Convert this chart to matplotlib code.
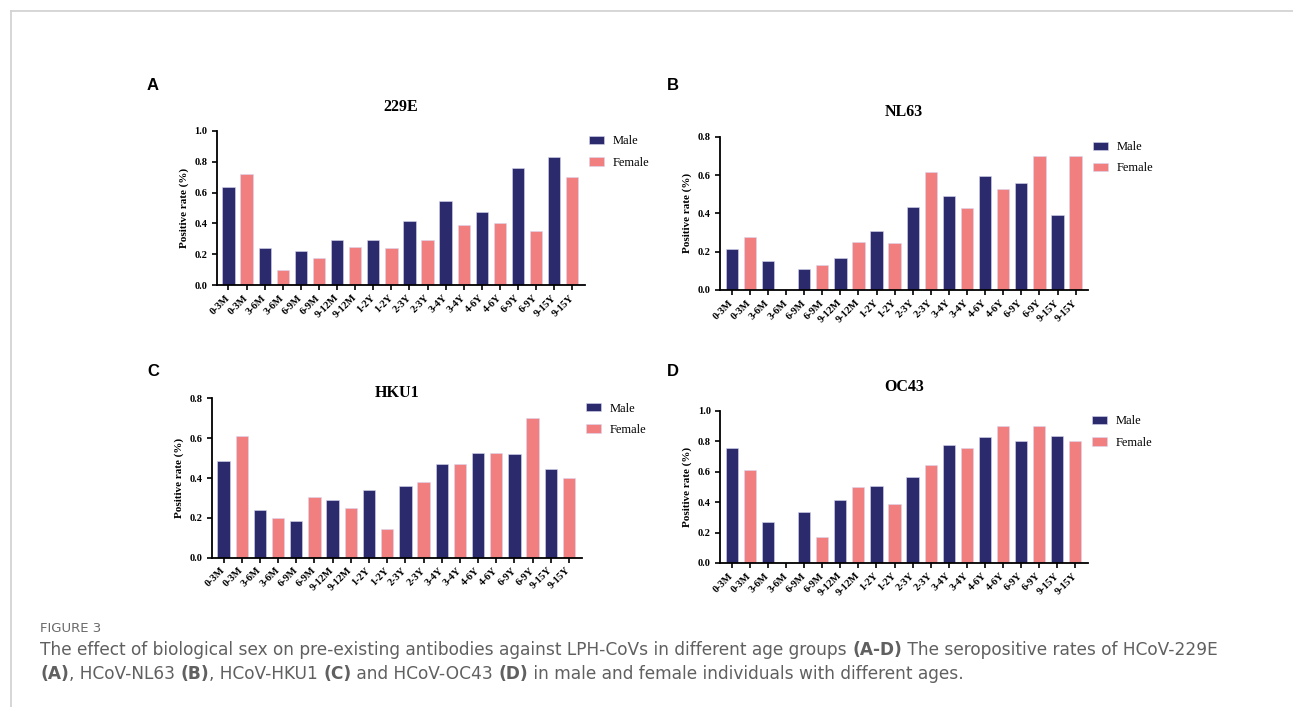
import numpy as np
import matplotlib
matplotlib.use("Agg")
import matplotlib.pyplot as plt
from matplotlib.lines import Line2D
from matplotlib.patches import Patch

# age groups, each shown twice (male bar then female bar)
age_groups = ["0-3M", "3-6M", "6-9M", "9-12M", "1-2Y", "2-3Y", "3-4Y", "4-6Y", "6-9Y", "9-15Y"]

# seropositive rates
male_229e = [0.634, 0.240, 0.221, 0.290, 0.290, 0.413, 0.545, 0.474, 0.758, 0.831]
female_229e = [0.721, 0.100, 0.173, 0.249, 0.240, 0.292, 0.387, 0.405, 0.348, 0.699]

male_nl63 = [0.212, 0.151, 0.111, 0.167, 0.308, 0.435, 0.490, 0.593, 0.560, 0.390]
female_nl63 = [0.278, 0.0, 0.130, 0.249, 0.243, 0.617, 0.430, 0.525, 0.699, 0.699]

male_hku1 = [0.485, 0.241, 0.184, 0.291, 0.338, 0.358, 0.472, 0.524, 0.519, 0.445]
female_hku1 = [0.609, 0.199, 0.305, 0.249, 0.146, 0.382, 0.469, 0.524, 0.700, 0.398]

male_oc43 = [0.759, 0.272, 0.333, 0.417, 0.509, 0.566, 0.774, 0.829, 0.800, 0.833]
female_oc43 = [0.612, 0.0, 0.173, 0.500, 0.388, 0.647, 0.757, 0.904, 0.899, 0.800]

NAVY = "#2B2A6D"
PINK = "#F27F80"
SERIF = ["Liberation Serif", "DejaVu Serif"]

W, H = 1293, 707
fig = plt.figure(figsize=(W / 100, H / 100), dpi=100)


def px_rect(left, right, top, bottom):
    return [left / W, 1 - bottom / H, (right - left) / W, (bottom - top) / H]


def draw_panel(rect, male, female, title, title_y, letter, letter_xy, ymax, ystep):
    ax = fig.add_axes(rect)
    vals, cols, labels = [], [], []
    for g, m, f in zip(age_groups, male, female):
        vals += [m, f]
        cols += [NAVY, PINK]
        labels += [g, g]
    x = np.arange(len(vals))
    ax.bar(x, vals, width=0.68, color=cols, edgecolor="#d8d8f0", linewidth=0.4)
    ax.set_xlim(-0.65, len(vals) - 0.3)
    ax.set_ylim(0, ymax)
    yt = np.arange(0, ymax + 1e-9, ystep)
    ax.set_yticks(yt)
    ax.set_yticklabels([f"{v:.1f}" for v in yt], family=SERIF, fontweight="bold", fontsize=7.5)
    ax.set_xticks(x)
    ax.set_xticklabels(labels, rotation=45, ha="right", va="center", rotation_mode="anchor",
                       family=SERIF, fontweight="bold", fontsize=7.5)
    for s in ["top", "right"]:
        ax.spines[s].set_visible(False)
    for s in ["left", "bottom"]:
        ax.spines[s].set_linewidth(1.3)
    ax.tick_params(direction="out", length=3.6, width=1.2)
    ax.tick_params(axis="y", pad=3)
    ax.tick_params(axis="x", pad=4.5)
    ax.set_ylabel("Positive rate (%)", family=SERIF, fontweight="bold", fontsize=8)
    ax.yaxis.set_label_coords(-0.075, 0.5)
    # title placed relative to the axes top, in pixels
    top_px = (1 - rect[1] - rect[3]) * H
    ax.text(0.5, 1 + (top_px - title_y) / (rect[3] * H), title, transform=ax.transAxes,
            ha="center", va="center", family=SERIF, fontweight="bold", fontsize=11.5)
    fig.text(letter_xy[0] / W, 1 - letter_xy[1] / H, letter, ha="left", va="center",
             family=["Liberation Sans", "DejaVu Sans"], fontweight="bold", fontsize=12)
    handles = [Patch(facecolor=NAVY, edgecolor="#d8d8f0", linewidth=0.4),
               Patch(facecolor=PINK, edgecolor="#d8d8f0", linewidth=0.4)]
    ax.legend(handles, ["Male", "Female"], loc="upper left", bbox_to_anchor=(1.0, 1.0),
              frameon=False, prop={"family": SERIF, "size": 9},
              handlelength=1.2, handleheight=0.65, handletextpad=0.7, labelspacing=0.75,
              borderpad=0.0, borderaxespad=0.35)
    return ax


draw_panel(px_rect(216.7, 585, 131, 285), male_229e, female_229e, "229E", 106.7,
           "A", (147, 86), 1.0, 0.2)
draw_panel(px_rect(720, 1088.3, 136.7, 290), male_nl63, female_nl63, "NL63", 111.7,
           "B", (667, 86), 0.8, 0.2)
draw_panel(px_rect(211.7, 581.7, 398.3, 557.7), male_hku1, female_hku1, "HKU1", 393,
           "C", (147, 372), 0.8, 0.2)
draw_panel(px_rect(720, 1088, 411, 563), male_oc43, female_oc43, "OC43", 386.7,
           "D", (667, 372), 1.0, 0.2)

# outer frame lines (left and top)
fig.add_artist(Line2D([10.5 / W, 10.5 / W], [0, 1 - 11 / H], color="#d0d0d0", linewidth=1.2,
                      transform=fig.transFigure))
fig.add_artist(Line2D([10.5 / W, 1], [1 - 11 / H, 1 - 11 / H], color="#d0d0d0", linewidth=1.2,
                      transform=fig.transFigure))

# caption
CAP = ["DejaVu Sans"]
renderer = fig.canvas.get_renderer()

line1 = [("The effect of biological sex on pre-existing antibodies against LPH-CoVs in different age groups ", False),
         ("(A-D)", True),
         (" The seropositive rates of HCoV-229E", False)]
line2 = [("(A)", True), (", HCoV-NL63 ", False), ("(B)", True), (", HCoV-HKU1 ", False),
         ("(C)", True), (" and HCoV-OC43 ", False), ("(D)", True),
         (" in male and female individuals with different ages.", False)]


def rich_line(pieces, x_px, y_px, size, color="#606060", draw=True):
    x = x_px
    made = []
    for txt, bold in pieces:
        t = fig.text(x / W, 1 - y_px / H, txt, ha="left", va="center", family=CAP,
                     fontsize=size, color=color, fontweight="bold" if bold else "normal")
        x += t.get_window_extent(renderer=renderer).width
        made.append(t)
    if not draw:
        for t in made:
            t.remove()
    return x - x_px


# fit the caption to the width it has in the source figure
probe = rich_line(line1, 40, 650, 10, draw=False)
cap_size = 10 * 1180 / probe
rich_line(line1, 40, 650, cap_size)
rich_line(line2, 40, 674, cap_size)
fig.text(40 / W, 1 - 628 / H, "FIGURE 3", ha="left", va="center", family=CAP,
         fontsize=cap_size * 0.78, color="#6a6a6a")

fig.savefig("out.png", dpi=100)
